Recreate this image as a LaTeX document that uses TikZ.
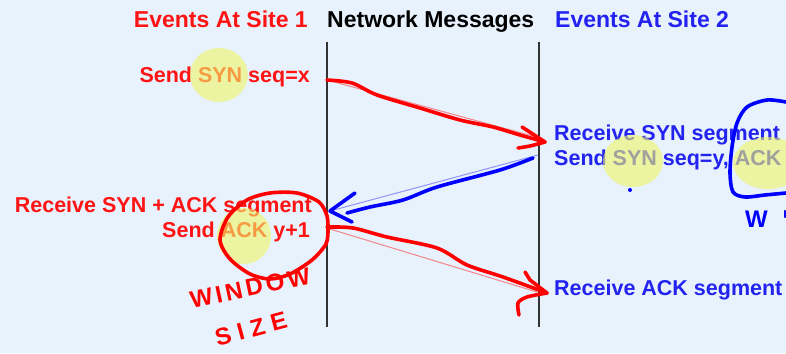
\documentclass[tikz,border=0pt]{standalone}
\usepackage{fontspec}
\setmainfont{Liberation Sans}
\definecolor{bg}{RGB}{232,242,253}
\definecolor{sitered}{RGB}{255,20,20}
\definecolor{siteblue}{RGB}{35,35,240}
\definecolor{penred}{RGB}{255,0,0}
\definecolor{penblue}{RGB}{0,0,255}
\definecolor{hilite}{RGB}{240,245,100}
\begin{document}
\begin{tikzpicture}[x=1pt,y=-1pt,
  head/.style={font=\fontsize{23}{26}\selectfont\bfseries, inner sep=0pt},
  ev/.style={font=\fontsize{21.5}{24}\selectfont\bfseries, inner sep=0pt},
  timeline/.style={line width=1.2pt, draw=black!80},
  wire/.style={line width=1pt, opacity=0.45},
  pen/.style={line width=3.6pt, line cap=round, line join=round},
  hl/.style={fill=hilite, opacity=0.6},
  scrawl/.style={inner sep=0pt, font=\fontsize{24}{26}\selectfont\bfseries}]
\fill[bg] (0,0) rectangle (786,353);
\useasboundingbox (0,0) rectangle (786,353);

% column headings
\node[head, text=sitered, anchor=base east] (h1) at (308,28) {Events At Site 1};
\node[head, anchor=base west] (h2) at (327,28) {Network Messages};
\node[head, text=siteblue, anchor=base west] (h3) at (555,28) {Events At Site 2};

% time lines of the two sites
\coordinate (l1t) at (327,42);
\coordinate (l1b) at (327,327);
\coordinate (l2t) at (539,42);
\coordinate (l2b) at (539,327);
\draw[timeline] (l1t) -- (l1b);
\draw[timeline] (l2t) -- (l2b);

% events
\node[ev, text=sitered, anchor=base east] (e1) at (310,82) {Send SYN seq=x};
\node[ev, text=siteblue, anchor=base west] (e2) at (554,140) {Receive SYN segment};
\node[ev, text=siteblue, anchor=base west] (e3) at (554,165) {Send SYN seq=y, ACK};
\node[ev, text=sitered, anchor=base east] (e4) at (312,212) {Receive SYN + ACK segment};
\node[ev, text=sitered, anchor=base east] (e5) at (310,237) {Send ACK y+1};
\node[ev, text=siteblue, anchor=base west] (e6) at (554,295) {Receive ACK segment};

% message end points on the time lines
\coordinate (m1s) at (327,80);
\coordinate (m1e) at (545,142);
\coordinate (m2s) at (533,158);
\coordinate (m2e) at (330,211);
\coordinate (m3s) at (327,227);
\coordinate (m3e) at (547,293);

% thin message lines
\draw[wire, penred] (m1s) -- (540,138);
\draw[wire, siteblue] (538,155) -- (m2e);
\draw[wire, penred] (330,229) -- (537,292);

% highlighter marks
\fill[hl] (219,75) ellipse (29 and 27);
\fill[hl] (633,161) ellipse (30 and 26);
\fill[hl] (768,163) ellipse (35 and 26);
\fill[hl] (244,236) ellipse (27 and 28);

% pen strokes over the messages
\draw[pen, penred] plot[smooth] coordinates {(m1s) (352,83) (377,95) (420,108) (460,120) (493,127) (520,135) (m1e)};
\draw[pen, penred] (522,127) -- (m1e);
\draw[pen, penred] plot[smooth] coordinates {(m1e) (530,146) (518,148)};

\draw[pen, penblue] plot[smooth] coordinates {(m2s) (500,170) (437,187) (403,200) (370,207) (347,213)};
\draw[pen, penblue] (355,193) -- (m2e) -- (352,222);

\draw[pen, penred] plot[smooth] coordinates {(m3s) (353,228) (387,237) (437,248) (467,265) (503,277) (m3e)};
\draw[pen, penred] (525,272) -- (530,280) -- (m3e);
\draw[pen, penred] plot[smooth] coordinates {(m3e) (527,297) (518,303) (519,315)};

% circle round the window field
\draw[pen, penred] plot[smooth] coordinates {(328,230) (327,216) (319,202) (297,193) (270,193) (247,200) (228,217) (220,240) (230,259) (250,274) (270,279) (290,274) (312,260) (326,244) (328,230)};
\node[scrawl, text=penred, rotate=12] (w1) at (250,288) {\addfontfeature{LetterSpace=14}WINDOW};
\node[scrawl, text=penred, rotate=15] (w2) at (251,329) {\addfontfeature{LetterSpace=28}SIZE};

% bracket round the acknowledgement field
\draw[pen, penblue] plot[smooth] coordinates {(786,102) (767,100) (747,107) (737,123) (732,147) (730,173) (733,192) (745,197) (765,195) (786,193)};
\fill[penblue] (630,190) circle (2);
\node[scrawl, text=penblue, anchor=base west] (w3) at (745,227) {W};
\draw[pen, penblue, line width=2.5pt] (785,211) -- (785,217);
\end{tikzpicture}
\end{document}
